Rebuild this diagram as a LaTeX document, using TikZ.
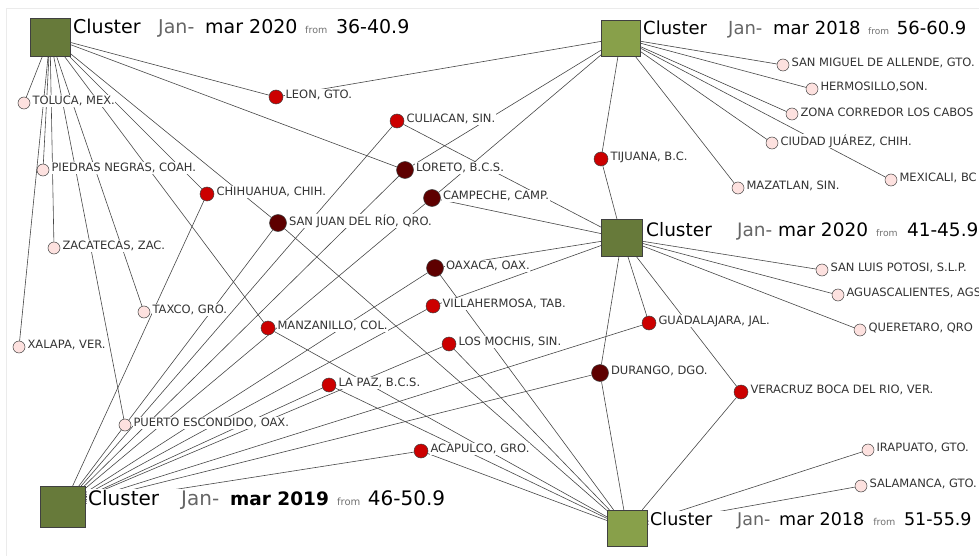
\documentclass[tikz,border=0pt]{standalone}
\usepackage{fontspec}
\setmainfont{DejaVu Sans}
\usepackage{xcolor}
\usepackage{tikz}
\usetikzlibrary{backgrounds}
\definecolor{olivaosc}{HTML}{677A3A}
\definecolor{olivaclr}{HTML}{88A04A}
\definecolor{rosa}{HTML}{FDE1DF}
\definecolor{rojo}{HTML}{CC0000}
\definecolor{guinda}{HTML}{5E0000}

\begin{document}
\begin{tikzpicture}[x=1pt, y=-1pt,
  grupo/.style={draw=black!75, fill=olivaosc, minimum width=40pt, minimum height=38pt, inner sep=0pt},
  punto/.style={circle, draw=black!75, line width=0.5pt, inner sep=0pt},
  ciudad/.style={punto, fill=rosa, minimum size=12pt},
  ciudad2/.style={punto, fill=rojo, minimum size=14pt},
  ciudad3/.style={punto, fill=guinda, minimum size=17pt},
  etq/.style={font=\fontsize{11.5}{12}\selectfont, text=black!80, fill=white, inner sep=0.6pt, yshift=2pt},
  titulo/.style={anchor=base west, fill=white, inner sep=1pt},
  linea/.style={black!72, line width=0.6pt},
  label distance=1.5pt]
\clip (0,0) rectangle (979,556);
\draw[black!8] (979,8) -- (6,8) -- (6,556);

% grupos
\node[grupo] (cA) at (50,37) {};
\node[grupo, fill=olivaclr, minimum width=39pt, minimum height=36pt] (cB) at (621,38) {};
\node[grupo, minimum width=41pt, minimum height=37pt] (cC) at (622,238) {};
\node[grupo, minimum width=45pt, minimum height=41pt] (cD) at (63,507) {};
\node[grupo, fill=olivaclr, minimum height=36pt] (cE) at (627,528) {};

\node[titulo, font=\fontsize{19}{19}\selectfont] (tA) at (72,34) {Cluster\hspace{17.6pt}\textcolor{black!60}{Jan-}\hspace{10.8pt}mar 2020\hspace{7.7pt}{\fontsize{9.5}{9.5}\selectfont\color{black!55}from}\hspace{8.7pt}36-40.9};
\node[titulo, font=\fontsize{18}{18}\selectfont] (tB) at (642,35) {Cluster\hspace{21.1pt}\textcolor{black!60}{Jan-}\hspace{10.7pt}mar 2018\hspace{7.5pt}{\fontsize{9}{9}\selectfont\color{black!55}from}\hspace{7.9pt}56-60.9};
\node[titulo, font=\fontsize{18.5}{18.5}\selectfont] (tC) at (645,236) {Cluster\hspace{25.3pt}\textcolor{black!60}{Jan-}\hspace{5.8pt}mar 2020\hspace{8.1pt}{\fontsize{9.25}{9.25}\selectfont\color{black!55}from}\hspace{9.3pt}41-45.9};
\node[titulo, font=\fontsize{20}{20}\selectfont] (tD) at (87,505) {Cluster\hspace{22pt}\textcolor{black!60}{Jan-}\hspace{10.9pt}{\fontsize{18.5}{18.5}\selectfont\bfseries mar 2019}\hspace{8.2pt}{\fontsize{10}{10}\selectfont\color{black!55}from}\hspace{7.5pt}46-50.9};
\node[titulo, font=\fontsize{17.5}{17.5}\selectfont] (tE) at (649,525) {Cluster\hspace{24.9pt}\textcolor{black!60}{Jan-}\hspace{8.7pt}mar 2018\hspace{9pt}{\fontsize{9.5}{9.5}\selectfont\color{black!55}from}\hspace{8.7pt}51-55.9};

% ciudades de un grupo
\node[ciudad, label={[etq]right:{TOLUCA, MEX.}}] (toluca) at (24,103) {};
\node[ciudad, label={[etq]right:{PIEDRAS NEGRAS, COAH.}}] (piedras) at (43,170) {};
\node[ciudad, label={[etq]right:{ZACATECAS, ZAC.}}] (zacatecas) at (54,248) {};
\node[ciudad, label={[etq]right:{TAXCO, GRO.}}] (taxco) at (144,312) {};
\node[ciudad, label={[etq]right:{XALAPA, VER.}}] (xalapa) at (19,347) {};
\node[ciudad, label={[etq]right:{PUERTO ESCONDIDO, OAX.}}] (puerto) at (125,425) {};
\node[ciudad, label={[etq]right:{SAN MIGUEL DE ALLENDE, GTO.}}] (sanmiguel) at (783,65) {};
\node[ciudad, label={[etq]right:{HERMOSILLO,SON.}}] (hermosillo) at (812,89) {};
\node[ciudad, label={[etq]right:{ZONA CORREDOR LOS CABOS}}] (loscabos) at (792,114) {};
\node[ciudad, label={[etq]right:{CIUDAD JUÁREZ, CHIH.}}] (juarez) at (772,143) {};
\node[ciudad, label={[etq]right:{MAZATLAN, SIN.}}] (mazatlan) at (738,188) {};
\node[ciudad, label={[etq]right:{MEXICALI, BC}}] (mexicali) at (891,180) {};
\node[ciudad, label={[etq]right:{SAN LUIS POTOSI, S.L.P.}}] (slp) at (822,270) {};
\node[ciudad, label={[etq]right:{AGUASCALIENTES, AGS}}] (ags) at (838,295) {};
\node[ciudad, label={[etq]right:{QUERETARO, QRO}}] (queretaro) at (860,330) {};
\node[ciudad, label={[etq]right:{IRAPUATO, GTO.}}] (irapuato) at (868,450) {};
\node[ciudad, label={[etq]right:{SALAMANCA, GTO.}}] (salamanca) at (861,486) {};

% ciudades de dos grupos
\node[ciudad2, label={[etq]right:{LEON, GTO.}}] (leon) at (276,97) {};
\node[ciudad2, label={[etq]right:{CULIACAN, SIN.}}] (culiacan) at (397,121) {};
\node[ciudad2, label={[etq]right:{CHIHUAHUA, CHIH.}}] (chihuahua) at (207,194) {};
\node[ciudad2, label={[etq]right:{TIJUANA, B.C.}}] (tijuana) at (601,159) {};
\node[ciudad2, label={[etq]right:{VILLAHERMOSA, TAB.}}] (villahermosa) at (433,306) {};
\node[ciudad2, label={[etq]right:{MANZANILLO, COL.}}] (manzanillo) at (268,328) {};
\node[ciudad2, label={[etq]right:{LOS MOCHIS, SIN.}}] (losmochis) at (449,344) {};
\node[ciudad2, label={[etq]right:{LA PAZ, B.C.S.}}] (lapaz) at (329,385) {};
\node[ciudad2, label={[etq]right:{ACAPULCO, GRO.}}] (acapulco) at (421,451) {};
\node[ciudad2, label={[etq]right:{GUADALAJARA, JAL.}}] (guadalajara) at (649,323) {};
\node[ciudad2, label={[etq]right:{VERACRUZ BOCA DEL RIO, VER.}}] (veracruz) at (741,392) {};

% ciudades de tres grupos
\node[ciudad3, label={[etq]right:{LORETO, B.C.S.}}] (loreto) at (405,170) {};
\node[ciudad3, label={[etq]right:{CAMPECHE, CAMP.}}] (campeche) at (432,198) {};
\node[ciudad3, label={[etq]right:{SAN JUAN DEL RÍO, QRO.}}] (sanjuan) at (278,223) {};
\node[ciudad3, label={[etq]right:{OAXACA, OAX.}}] (oaxaca) at (435,268) {};
\node[ciudad3, label={[etq]right:{DURANGO, DGO.}}] (durango) at (600,373) {};

\begin{pgfonlayer}{background}
\draw[linea] (cA) -- (toluca) (cA) -- (piedras) (cA) -- (zacatecas) (cA) -- (taxco)
  (cA) -- (xalapa) (cA) -- (puerto) (cA) -- (leon) (cA) -- (loreto)
  (cA) -- (chihuahua) (cA) -- (sanjuan) (cA) -- (manzanillo);
\draw[linea] (cB) -- (leon) (cB) -- (loreto) (cB) -- (campeche) (cB) -- (tijuana)
  (cB) -- (mazatlan) (cB) -- (sanmiguel) (cB) -- (hermosillo) (cB) -- (loscabos)
  (cB) -- (juarez) (cB) -- (mexicali);
\draw[linea] (cC) -- (tijuana) (cC) -- (culiacan) (cC) -- (campeche) (cC) -- (oaxaca)
  (cC) -- (villahermosa) (cC) -- (guadalajara) (cC) -- (durango) (cC) -- (veracruz)
  (cC) -- (slp) (cC) -- (ags) (cC) -- (queretaro);
\draw[linea] (cD) -- (chihuahua) (cD) -- (sanjuan) (cD) -- (culiacan) (cD) -- (loreto)
  (cD) -- (campeche) (cD) -- (oaxaca) (cD) -- (villahermosa) (cD) -- (losmochis)
  (cD) -- (lapaz) (cD) -- (guadalajara) (cD) -- (durango) (cD) -- (acapulco);
\draw[linea] (cE) -- (manzanillo) (cE) -- (sanjuan) (cE) -- (oaxaca) (cE) -- (losmochis)
  (cE) -- (lapaz) (cE) -- (acapulco) (cE) -- (durango) (cE) -- (veracruz)
  (cE) -- (irapuato) (cE) -- (salamanca);
\end{pgfonlayer}
\end{tikzpicture}
\end{document}
